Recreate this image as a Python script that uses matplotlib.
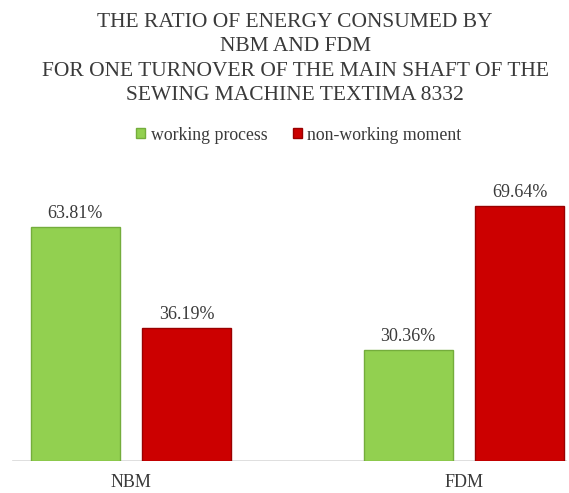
import matplotlib
matplotlib.use("Agg")
import matplotlib.pyplot as plt
from matplotlib.patches import Patch
import numpy as np

plt.rcParams['font.family'] = ['Liberation Serif', 'DejaVu Serif']

categories = ["NBM", "FDM"]
working = [63.81, 30.36]
non_working = [36.19, 69.64]
series_names = ["working process", "non-working moment"]
title_lines = [
    "THE RATIO OF ENERGY CONSUMED BY",
    "NBM AND FDM",
    "FOR ONE TURNOVER OF THE MAIN SHAFT OF THE",
    "SEWING MACHINE TEXTIMA 8332",
]

green = '#92d050'
green_edge = '#74ad3c'
red = '#cc0000'
red_edge = '#990000'
text_col = '#3a3a3a'

W, H = 569, 493
fig = plt.figure(figsize=(W / 100, H / 100), dpi=100)

# axes: full width, baseline at 461 px from top
ax = fig.add_axes([0, 32 / H, 1, 275 / H])
ax.set_ylim(0, 75)
ax.set_xlim(-131 / 333, (W - 131) / 333)

x = np.arange(len(categories))
bw = 0.267
off = 0.168

b1 = ax.bar(x - off, working, bw, color=green, edgecolor=green_edge, linewidth=1.0, zorder=3)
b2 = ax.bar(x + off, non_working, bw, color=red, edgecolor=red_edge, linewidth=1.0, zorder=3)

for bars, vals in ((b1, working), (b2, non_working)):
    for rect, v in zip(bars, vals):
        ax.annotate(f"{v:.2f}%", (rect.get_x() + rect.get_width() / 2, v),
                    xytext=(0, 6.5), textcoords='offset points',
                    ha='center', va='baseline', fontsize=13, color=text_col)

ax.axhline(0, xmin=13 / W, xmax=566 / W, color='#d9d9d9', linewidth=1.2, zorder=2)

for s in ax.spines.values():
    s.set_visible(False)
ax.set_yticks([])
ax.set_xticks(x)
ax.set_xticklabels(categories, fontsize=13, color=text_col)
ax.tick_params(axis='x', length=0, pad=9.5)

# title lines
baselines = [26.7, 51.4, 76.0, 100.5]
for line, yb in zip(title_lines, baselines):
    fig.text(295 / W, 1 - yb / H, line, ha='center', va='baseline',
             fontsize=15.5, color=text_col)

handles = [Patch(facecolor=green, edgecolor=green_edge),
           Patch(facecolor=red, edgecolor=red_edge)]
fig.legend(handles, series_names, loc='center', bbox_to_anchor=(299 / W, 1 - 135 / H),
           ncol=2, frameon=False, fontsize=12.8, handlelength=0.5, handleheight=0.5,
           handletextpad=0.3, columnspacing=1.45, labelcolor=text_col)

fig.savefig("out.png", dpi=100)
